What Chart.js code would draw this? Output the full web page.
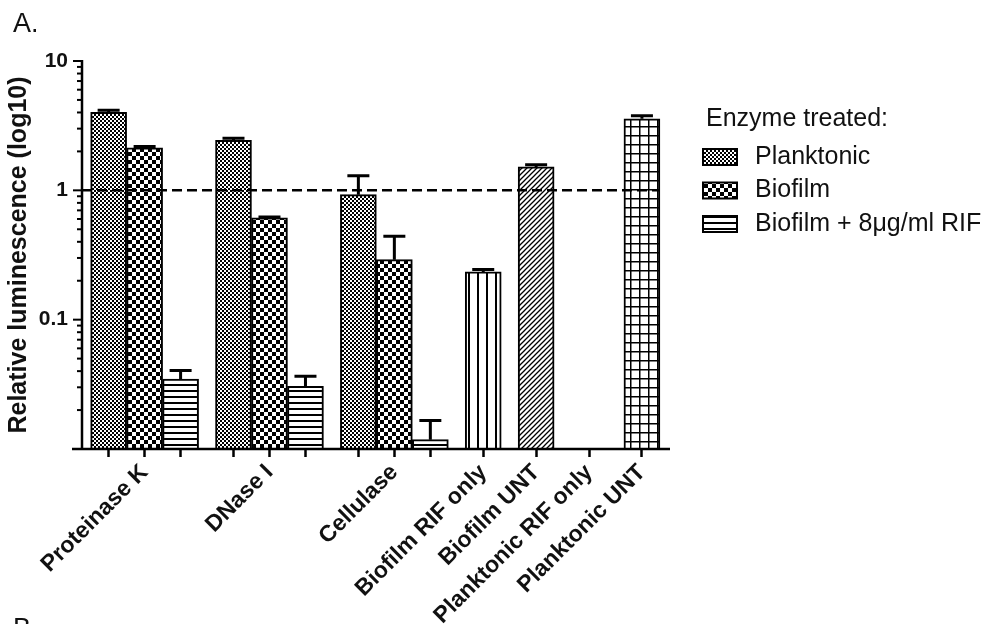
<!DOCTYPE html>
<html>
<head>
<meta charset="utf-8">
<script src="https://cdn.jsdelivr.net/npm/chart.js@4/dist/chart.umd.min.js"></script>
<style>
  html, body { margin: 0; padding: 0; background: #fff; }
  #wrap { width: 993px; height: 624px; position: relative; }
</style>
</head>
<body>
<div id="wrap"><canvas id="chart"></canvas></div>
<script>
// enzyme groups (3 bars each)
const groupLabels = ['Proteinase K', 'DNase I', 'Cellulase'];
const seriesNames = ['Planktonic', 'Biofilm', 'Biofilm + 8\u03BCg/ml RIF'];
const planktonic    = [4.01, 2.44, 0.926];
const planktonicErr = [0.15, 0.09, 0.37];
const biofilm       = [2.13, 0.612, 0.291];
const biofilmErr    = [0.05, 0.01, 0.15];
const biofilmRif    = [0.0348, 0.0305, 0.0118];
const biofilmRifErr = [0.0057, 0.006, 0.0048];

// controls (single bars)
const controlLabels = ['Biofilm RIF only', 'Biofilm UNT', 'Planktonic RIF only', 'Planktonic UNT'];
const controlValues = [0.234, 1.517, null, 3.57];
const controlErr    = [0.01, 0.06, null, 0.2];

// y axis
const yLabelVals = [0.1, 1, 10];
const refLine = 1;

const FONT = '"Liberation Sans", Arial, sans-serif';
const INK = '#111';

// ---- hatch patterns ----
function makePattern(w, h, draw) {
    const c = document.createElement('canvas');
    c.width = w; c.height = h;
    const g = c.getContext('2d');
    g.fillStyle = '#fff';
    g.fillRect(0, 0, w, h);
    g.fillStyle = '#000';
    g.strokeStyle = '#000';
    draw(g, w, h);
    return g.createPattern(c, 'repeat');
}
const patFineChecker = makePattern(4, 4, g => { g.fillRect(0, 0, 2, 2); g.fillRect(2, 2, 2, 2); });
const patChecker = makePattern(8, 8, g => { g.fillRect(0, 0, 4, 4); g.fillRect(4, 4, 4, 4); });
const patHoriz = makePattern(6, 6, g => { g.fillRect(0, 0, 6, 2); });
const patVert = makePattern(9, 9, g => { g.fillRect(0, 0, 2, 9); });
const patDiag = makePattern(5, 5, g => {
    g.lineWidth = 1.3;
    g.beginPath();
    g.moveTo(0, 5); g.lineTo(5, 0);
    g.moveTo(-1, 1); g.lineTo(1, -1);
    g.moveTo(4, 6); g.lineTo(6, 4);
    g.stroke();
});
const patGrid = makePattern(9, 9, g => { g.fillRect(0, 0, 9, 1.5); g.fillRect(0, 0, 1.5, 9); });

const seriesPatterns = [patFineChecker, patChecker, patHoriz];
const controlPatterns = [patVert, patDiag, null, patGrid];

// ---- x layout: bars side by side in groups, small gap between blocks ----
const GAP = 0.47;
const tickPos = [], tickText = [], groupStart = [], controlX = [];
let pos = 0;
groupLabels.forEach(g => {
    groupStart.push(pos);
    for (let s = 0; s < 3; s++) { tickPos.push(pos + s); tickText.push(s === 1 ? g : ''); }
    pos += 3 + GAP;
});
controlLabels.forEach(c => {
    controlX.push(pos);
    tickPos.push(pos); tickText.push(c);
    pos += 1 + GAP;
});
const lastX = controlX[controlX.length - 1];

const yTicks = [];
for (let e = -2; e <= 0; e++) for (let k = 1; k <= 9; k++) yTicks.push(Number((k * Math.pow(10, e)).toFixed(2)));
yTicks.push(10);

const seriesVals = [planktonic, biofilm, biofilmRif];
const seriesErrs = [planktonicErr, biofilmErr, biofilmRifErr];

const datasets = seriesVals.map((vals, s) => ({
    label: seriesNames[s],
    data: vals.map((v, i) => ({ x: groupStart[i] + s, y: v })),
    errors: seriesErrs[s],
    backgroundColor: seriesPatterns[s]
}));
datasets.push({
    label: 'controls',
    data: controlValues.map((v, i) => ({ x: controlX[i], y: v })),
    errors: controlErr,
    backgroundColor: controlPatterns.map(p => p || '#fff')
});

const extras = {
    id: 'extras',
    afterDatasetsDraw(chart) {
        const ctx = chart.ctx, xs = chart.scales.x, ys = chart.scales.y, area = chart.chartArea;
        ctx.save();
        // error bars (upper only)
        ctx.strokeStyle = '#000';
        ctx.lineWidth = 3;
        chart.data.datasets.forEach((ds, di) => {
            const meta = chart.getDatasetMeta(di);
            meta.data.forEach((bar, i) => {
                const v = ds.data[i].y, e = ds.errors[i];
                if (v == null || e == null) return;
                const top = ys.getPixelForValue(v + e);
                ctx.beginPath();
                ctx.moveTo(bar.x, bar.y);
                ctx.lineTo(bar.x, top);
                ctx.moveTo(bar.x - 11, top);
                ctx.lineTo(bar.x + 11, top);
                ctx.stroke();
            });
        });
        // dashed reference line
        const yr = ys.getPixelForValue(refLine);
        ctx.setLineDash([10, 5]);
        ctx.lineWidth = 2.5;
        ctx.beginPath();
        ctx.moveTo(area.left, yr);
        ctx.lineTo(xs.getPixelForValue(lastX + 0.5), yr);
        ctx.stroke();
        ctx.setLineDash([]);
        // axes lines
        ctx.lineWidth = 2.5;
        ctx.beginPath();
        ctx.moveTo(area.left, area.top - 1);
        ctx.lineTo(area.left, area.bottom);
        ctx.moveTo(area.left - 10, area.bottom);
        ctx.lineTo(area.right, area.bottom);
        ctx.stroke();
        // y ticks
        ctx.lineWidth = 2;
        yTicks.forEach(v => {
            const y = ys.getPixelForValue(v);
            const len = yLabelVals.includes(v) ? 9 : 5;
            ctx.beginPath();
            ctx.moveTo(area.left - len, y);
            ctx.lineTo(area.left, y);
            ctx.stroke();
        });
        ctx.restore();
    },
    afterDraw(chart) {
        const ctx = chart.ctx;
        ctx.save();
        ctx.fillStyle = INK;
        ctx.textBaseline = 'alphabetic';
        ctx.font = '27px ' + FONT;
        ctx.fillText('A.', 13, 32);
        ctx.fillText('B.', 13, 637);
        // legend
        ctx.font = '25px ' + FONT;
        ctx.fillText('Enzyme treated:', 706, 126);
        seriesNames.forEach((name, i) => {
            const cy = 157 + i * 33.5;
            ctx.fillStyle = seriesPatterns[i];
            ctx.fillRect(703, cy - 8, 34, 16);
            ctx.strokeStyle = '#000';
            ctx.lineWidth = 2;
            ctx.strokeRect(703, cy - 8, 34, 16);
            ctx.fillStyle = INK;
            ctx.textBaseline = 'middle';
            ctx.fillText(name, 755, cy);
        });
        ctx.restore();
    }
};

new Chart(document.getElementById('chart'), {
    type: 'bar',
    data: { datasets },
    options: {
        responsive: true,
        maintainAspectRatio: false,
        animation: false,
        devicePixelRatio: 1,
        layout: { padding: { left: 0, right: 323, top: 61, bottom: 0 } },
        datasets: {
            bar: {
                grouped: false,
                categoryPercentage: 1,
                barPercentage: 1,
                borderWidth: 2,
                borderColor: '#000'
            }
        },
        plugins: { legend: { display: false }, tooltip: { enabled: false } },
        scales: {
            x: {
                type: 'linear',
                min: -0.74,
                max: lastX + 0.78,
                offset: false,
                afterBuildTicks: s => { s.ticks = tickPos.map(v => ({ value: v })); },
                afterFit: s => { s.height = 175; },
                grid: { display: true, offset: false, drawOnChartArea: false, drawTicks: true, tickLength: 8, tickWidth: 2.5, tickColor: '#000' },
                border: { display: false },
                ticks: {
                    autoSkip: false,
                    maxRotation: 45,
                    minRotation: 45,
                    padding: 2,
                    color: INK,
                    font: { family: FONT, size: 23, weight: 'bold' },
                    callback: (v, i) => tickText[i]
                }
            },
            y: {
                type: 'logarithmic',
                min: 0.01,
                max: 10,
                afterBuildTicks: s => { s.ticks = yTicks.map(v => ({ value: v })); },
                afterFit: s => { s.width = 82; },
                grid: { display: false, drawTicks: false },
                border: { display: false },
                ticks: {
                    autoSkip: false,
                    padding: 14,
                    color: INK,
                    font: { family: FONT, size: 21, weight: 'bold' },
                    callback: v => (yLabelVals.find(t => Math.abs(t - v) < 1e-9) !== undefined ? String(v) : '')
                },
                title: {
                    display: true,
                    text: 'Relative luminescence (log10)',
                    color: INK,
                    font: { family: FONT, size: 25, weight: 'bold' },
                    padding: { top: 4, bottom: 0 }
                }
            }
        }
    },
    plugins: [extras]
});
</script>
</body>
</html>
